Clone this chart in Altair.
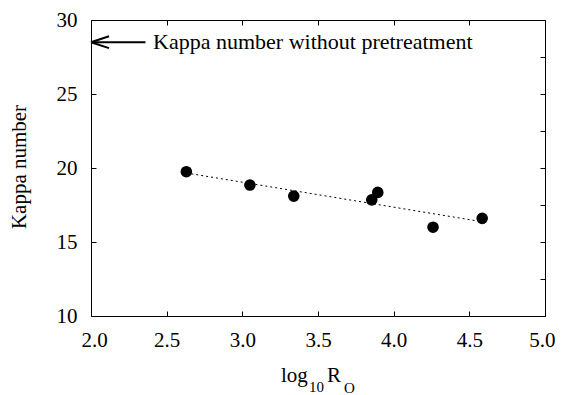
import altair as alt
import pandas as pd

# ---- data ----
log_ro = [2.63, 3.05, 3.34, 3.855, 3.895, 4.26, 4.585]
kappa = [19.75, 18.85, 18.1, 17.85, 18.35, 16.0, 16.6]

x_ticks = [2.0, 2.5, 3.0, 3.5, 4.0, 4.5, 5.0]
y_ticks = [10, 12.5, 15, 17.5, 20, 22.5, 25, 27.5, 30]

untreated_kappa = [28.5]
arrow_x = [2.0, 2.36]
note_x = [2.41]
note_text = ["Kappa number without pretreatment"]

X_DOMAIN = [2.0, 5.0]
Y_DOMAIN = [10, 30]
FONT = "'Liberation Serif', 'Times New Roman', Times, serif"

df = pd.DataFrame({"x": log_ro, "y": kappa})
arrow_df = pd.DataFrame({"x": [arrow_x[0]], "x2": [arrow_x[1]], "y": untreated_kappa})
head_df = pd.DataFrame({"x": [arrow_x[0]], "y": untreated_kappa})
note_df = pd.DataFrame({"x": note_x, "y": untreated_kappa, "t": note_text})

xs = alt.Scale(domain=X_DOMAIN, nice=False, zero=False)
ys = alt.Scale(domain=Y_DOMAIN, nice=False, zero=False)

common_axis = dict(domain=False, offset=-5, tickSize=5, tickColor="black",
                   tickWidth=1, grid=False, title=None)

x_bottom = alt.Axis(orient="bottom", values=x_ticks, format=".1f", labelPadding=13,
                    labelFlush=True, labelFlushOffset=10,
                    labelFont=FONT, labelFontSize=21, labelColor="black", **common_axis)
y_left = alt.Axis(orient="left", values=y_ticks, format="d", labelFlush=False,
                  labelExpr="datum.value % 5 == 0 ? datum.label : ''",
                  labelPadding=14, labelFont=FONT, labelFontSize=21, labelColor="black",
                  **common_axis)
x_top = alt.Axis(orient="top", values=x_ticks, labels=False, **common_axis)
y_right = alt.Axis(orient="right", values=y_ticks, labels=False, **common_axis)

points = alt.Chart(df).mark_circle(size=135, color="black", opacity=1).encode(
    x=alt.X("x:Q", scale=xs, axis=x_bottom),
    y=alt.Y("y:Q", scale=ys, axis=y_left),
)

arrow = alt.Chart(arrow_df).mark_rule(color="black", strokeWidth=2).encode(
    x=alt.X("x:Q", scale=xs), x2="x2:Q", y=alt.Y("y:Q", scale=ys)
)

head = alt.Chart(head_df).mark_point(
    shape="M0,0 L1,-0.33 M0,0 L1,0.33", size=1300, filled=False,
    color="black", strokeWidth=2, opacity=1,
).encode(x=alt.X("x:Q", scale=xs), y=alt.Y("y:Q", scale=ys))

note = alt.Chart(note_df).mark_text(
    align="left", baseline="middle", font=FONT, fontSize=22, color="black"
).encode(x=alt.X("x:Q", scale=xs), y=alt.Y("y:Q", scale=ys), text="t:N")


def label(txt, x, y, size, **kw):
    return alt.Chart(pd.DataFrame({"t": [txt]})).mark_text(
        font=FONT, fontSize=size, color="black", **kw
    ).encode(x=alt.value(x), y=alt.value(y), text="t:N")


y_title = label("Kappa number", -71, 147, 21, angle=270, align="center", baseline="middle")
t_log = label("log", 190, 362, 21, align="left", baseline="alphabetic")
t_10 = label("10", 218, 372, 15, align="left", baseline="alphabetic")
t_R = label("R", 236, 362, 21, align="left", baseline="alphabetic")
t_O = label("O", 253, 373, 15, align="left", baseline="alphabetic")

trend = alt.Chart(df).transform_regression("x", "y").mark_line(
    color="black", strokeWidth=1, strokeDash=[2, 3]
).encode(
    x=alt.X("x:Q", scale=xs, axis=x_top),
    y=alt.Y("y:Q", scale=ys, axis=y_right),
)

inner = alt.layer(points, arrow, head, note, y_title, t_log, t_10, t_R, t_O)

chart = alt.layer(inner, trend).resolve_scale(
    x="independent", y="independent"
).properties(
    width=454, height=296,
    autosize=alt.AutoSizeParams(type="none"),
    padding={"left": 83, "top": 12, "right": 10, "bottom": 79},
).configure_view(stroke="black", strokeWidth=1)

chart.save("out.html", embed_options={"renderer": "svg", "actions": False})
